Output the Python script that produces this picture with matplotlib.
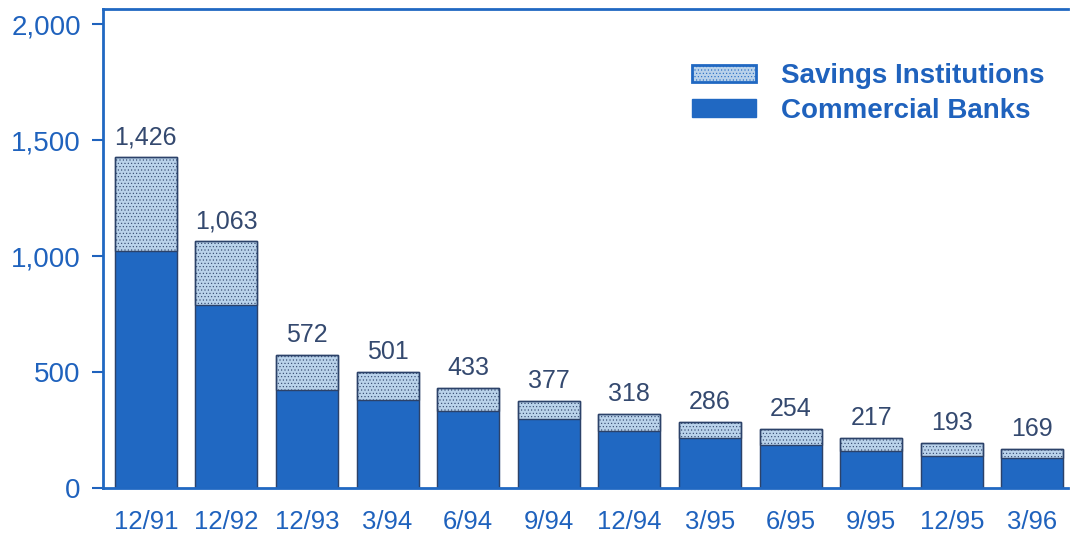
import matplotlib
matplotlib.use("Agg")
import matplotlib.pyplot as plt
import matplotlib.patches as mpatches
import numpy as np

plt.rcParams['font.family'] = ['Liberation Sans', 'DejaVu Sans']
plt.rcParams['hatch.linewidth'] = 0.4

# problem institutions (number)
periods = ['12/91', '12/92', '12/93', '3/94', '6/94', '9/94',
           '12/94', '3/95', '6/95', '9/95', '12/95', '3/96']
totals = [1426, 1063, 572, 501, 433, 377, 318, 286, 254, 217, 193, 169]
banks = [1020, 788, 424, 378, 331, 297, 248, 216, 186, 162, 140, 130]
savings = [t - b for t, b in zip(totals, banks)]

BLUE = '#2068c2'
LIGHT = '#b9d2ea'
EDGE = '#2c4269'
TXT = '#1f62bd'

fig = plt.figure(figsize=(10.7, 5.43), dpi=100)
ax = fig.add_axes([0.0963, 0.101, 0.9017, 0.883])

x = np.arange(len(periods))
ax.bar(x, banks, width=0.77, color=BLUE, edgecolor=BLUE, linewidth=0.8)
ax.bar(x, savings, bottom=banks, width=0.77, color=LIGHT,
       edgecolor=EDGE, hatch='.....', linewidth=1.0)
# outline around full bar
ax.bar(x, totals, width=0.77, fill=False, edgecolor=EDGE, linewidth=1.0)

for xi, t in zip(x, totals):
    ax.text(xi, t + 35, f'{t:,}', ha='center', va='bottom',
            fontsize=18, color='#34496f')

ax.set_xlim(-0.53, 11.44)
ax.set_ylim(0, 2066)
ax.set_yticks([0, 500, 1000, 1500, 2000])
ax.set_yticklabels(['0', '500', '1,000', '1,500', '2,000'])
ax.set_xticks(x)
ax.set_xticklabels(periods)

ax.tick_params(axis='y', colors=TXT, labelsize=20, length=8, width=1.5,
               direction='out', pad=8)
ax.tick_params(axis='x', colors=TXT, labelsize=18.5, length=0, pad=16)

ax.spines['right'].set_visible(False)
for s in ['left', 'bottom', 'top']:
    ax.spines[s].set_color(BLUE)
    ax.spines[s].set_linewidth(2)

handles = [mpatches.Patch(facecolor=LIGHT, edgecolor=BLUE, hatch='.....',
                          linewidth=2, label='Savings Institutions'),
           mpatches.Patch(facecolor=BLUE, edgecolor=BLUE,
                          label='Commercial Banks')]
leg = ax.legend(handles=handles, loc='upper right',
                bbox_to_anchor=(0.99, 0.915), frameon=False,
                prop={'weight': 'bold', 'size': 20}, handlelength=2.3,
                handleheight=0.6, handletextpad=0.9, labelspacing=0.3,
                borderpad=0)
for t in leg.get_texts():
    t.set_color(TXT)

fig.savefig('out.png', dpi=100)
